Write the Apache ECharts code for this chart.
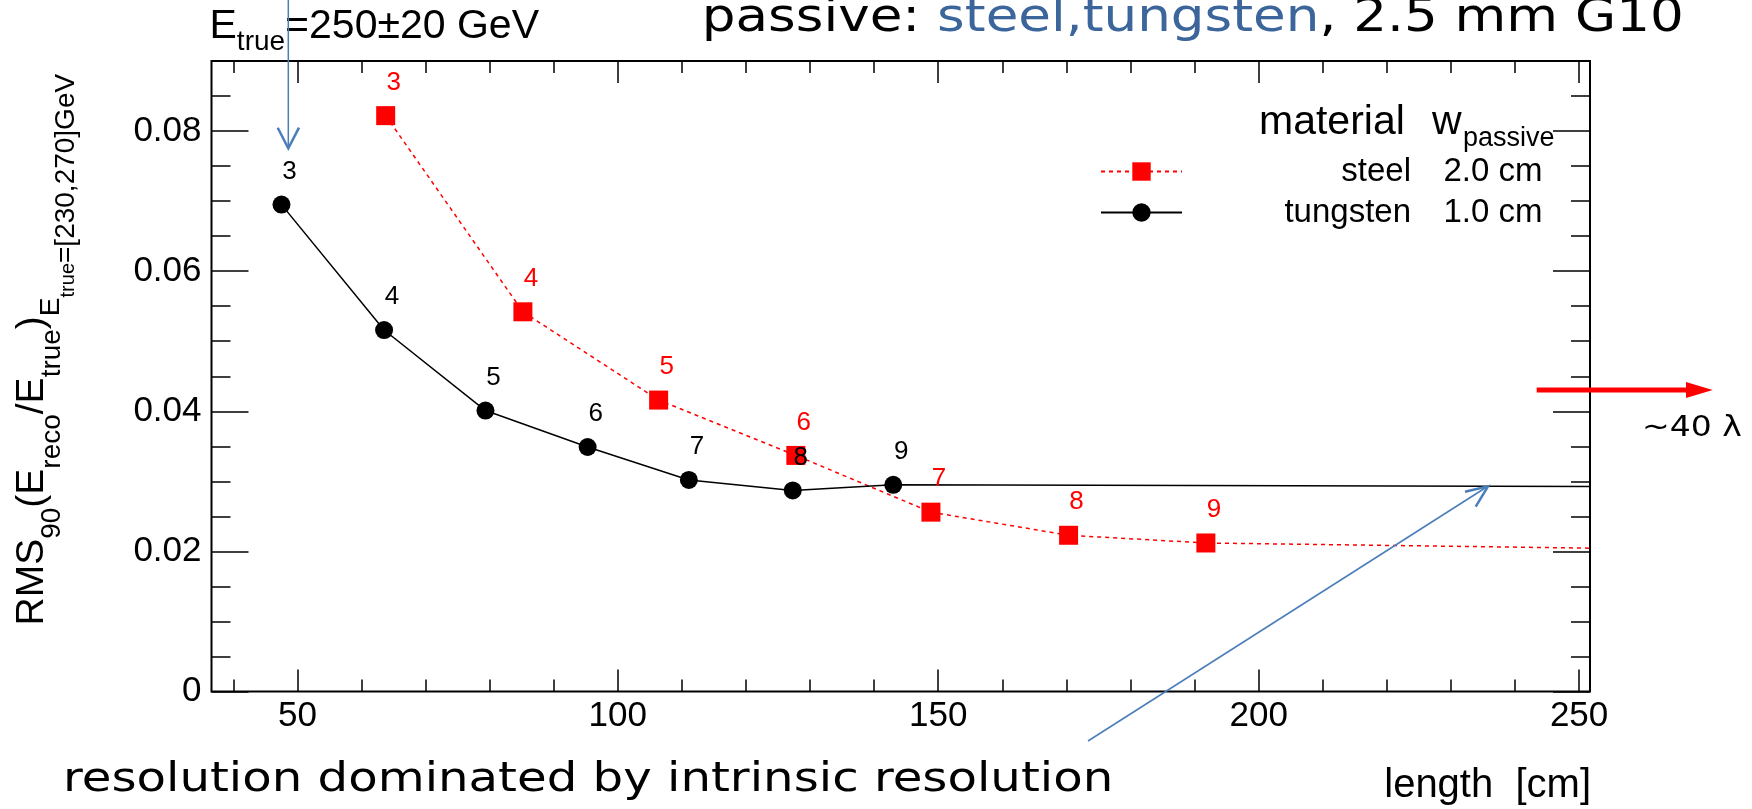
<!DOCTYPE html>
<html><head><meta charset="utf-8">
<script src="https://cdn.jsdelivr.net/npm/echarts@6/dist/echarts.min.js"></script>
<style>html,body{margin:0;padding:0;background:#fff}#c{width:1752px;height:809px}</style>
</head><body><div id="c"></div>
<script>
// ---- data ----
const layers = [3, 4, 5, 6, 7, 8, 9];
const steelLength = [63.78, 85.19, 106.37, 127.78, 148.86, 170.34, 191.76];
const steelRms = [0.0822, 0.0542, 0.0416, 0.0337, 0.0256, 0.0223, 0.0212];
const steelFar = [851, 0.0131];        // ~40 lambda point, off the plotted range
const tungstenLength = [47.52, 63.53, 79.35, 95.29, 111.09, 127.30, 142.98];
const tungstenRms = [0.0695, 0.0516, 0.0401, 0.0349, 0.0302, 0.0287, 0.0295];
const tungstenFar = [635, 0.0284];     // ~40 lambda point, off the plotted range
const xMajorTicks = [50, 100, 150, 200, 250];
const xMinorTicks = [40, 50, 60, 70, 80, 90, 100, 110, 120, 130, 140, 150, 160, 170, 180, 190, 200, 210, 220, 230, 240, 250];
const yMajorTicks = [0, 0.02, 0.04, 0.06, 0.08];
const yMinorTicks = [0, 0.005, 0.01, 0.015, 0.02, 0.025, 0.03, 0.035, 0.04, 0.045, 0.05, 0.055, 0.06, 0.065, 0.07, 0.075, 0.08, 0.085];
const legendNames = ['steel', 'tungsten'];
const legendWidths = ['2.0 cm', '1.0 cm'];

// ---- helpers for multi-size text ----
const ROOTF = 'Liberation Sans';
const SLIDEF = 'DejaVu Sans';
const mctx = document.createElement('canvas').getContext('2d');
function tw(t, size, fam) { mctx.font = size + 'px "' + fam + '"'; return mctx.measureText(t).width; }
function txt(x, base, t, size, fam, color, sx, align) {
  return {
    type: 'text', x: x, y: base - 0.346 * size, scaleX: sx || 1, z: 100,
    style: { text: t, font: size + 'px "' + fam + '"', fill: color || '#000',
      align: align || 'left', textAlign: align || 'left', verticalAlign: 'middle', textVerticalAlign: 'middle' }
  };
}
function runs(x0, base, parts, fam, sx) {
  sx = sx || 1; let x = x0; const out = [];
  for (const p of parts) {
    out.push(txt(x, base + (p.dy || 0), p.t, p.size, fam, p.c, sx));
    x += tw(p.t, p.size, fam) * sx;
  }
  return out;
}

const chart = echarts.init(document.getElementById('c'), null, { renderer: 'canvas', width: 1752, height: 809 });

const XMIN = 36.6, XMAX = 251.7;
function xAx(pos, ticks, len, withLabels) {
  return {
    type: 'value', position: pos, gridIndex: 0, min: XMIN, max: XMAX,
    axisLine: { show: false, onZero: false }, splitLine: { show: false },
    axisTick: { show: true, inside: true, length: len, customValues: ticks, lineStyle: { color: '#000', width: 1.5 } },
    axisLabel: withLabels ? { show: true, customValues: ticks, margin: 7, fontSize: 35, fontFamily: ROOTF, color: '#000' } : { show: false }
  };
}
function yAx(pos, ticks, len, withLabels) {
  return {
    type: 'value', position: pos, gridIndex: 0, min: 0, max: 0.09,
    axisLine: { show: false, onZero: false }, splitLine: { show: false },
    axisTick: { show: true, inside: true, length: len, customValues: ticks, lineStyle: { color: '#000', width: 1.5 } },
    axisLabel: withLabels ? { show: true, customValues: ticks, margin: 10, fontSize: 35, fontFamily: ROOTF, color: '#000',
      formatter: v => (v === 0 ? '0' : v.toFixed(2)) } : { show: false }
  };
}

const steelData = steelLength.map((x, i) => [x, steelRms[i]]);
steelData.push({ value: steelFar, symbol: 'none', label: { show: false } });
const tungstenData = tungstenLength.map((x, i) => [x, tungstenRms[i]]);
tungstenData.push({ value: tungstenFar, symbol: 'none', label: { show: false } });

function layerLabel(color) {
  return { show: true, position: 'inside', offset: [8, -33], fontSize: 26, fontFamily: ROOTF, color: color,
    formatter: p => (p.dataIndex < layers.length ? String(layers[p.dataIndex]) : '') };
}

// y-axis title (rotated)
const yTitleParts = [
  { t: 'RMS', size: 39, dy: 0 }, { t: '90', size: 28, dy: 16 },
  { t: '(E', size: 39, dy: 0 }, { t: 'reco', size: 28, dy: 16 },
  { t: '/E', size: 39, dy: 0 }, { t: 'true', size: 28, dy: 16 },
  { t: ')', size: 39, dy: 0 }, { t: 'E', size: 28, dy: 15 },
  { t: 'true', size: 20, dy: 30 }, { t: '=[230,270]GeV', size: 28, dy: 30 }
];

const graphics = [].concat(
  // E_true = 250 +- 20 GeV
  runs(209.5, 40.7, [{ t: 'E', size: 41 }, { t: 'true', size: 28, dy: 11 }, { t: '=250\u00b120 GeV', size: 41 }], ROOTF),
  // slide title
  runs(701.8, 35, [{ t: 'passive: ', size: 46 }, { t: 'steel,tungsten', size: 46, c: '#3b659b' }, { t: ', 2.5 mm G10', size: 46 }], SLIDEF, 1.155),
  // bottom remark
  [txt(63, 794, 'resolution dominated by intrinsic resolution', 40, SLIDEF, '#000', 1.205)],
  // ~40 lambda
  [txt(1642, 438.5, '~40 \u03bb', 28, SLIDEF, '#000', 1.18)],
  // x axis title
  [txt(1591, 800, 'length  [cm]', 40, ROOTF, '#000', 1, 'right')],
  // legend header
  [txt(1259, 136.7, 'material', 41, ROOTF), txt(1432, 136.7, 'w', 41, ROOTF), txt(1463, 148.3, 'passive', 27, ROOTF)],
  [{ type: 'group', x: 45.5, y: 625.5, rotation: Math.PI / 2, z: 100, children: runs(0, 0, yTitleParts, ROOTF) }],
  // blue arrows
  [
    { type: 'line', z: 100, shape: { x1: 288.3, y1: 0, x2: 288.3, y2: 147 }, style: { stroke: '#4a7ebb', lineWidth: 1.5 } },
    { type: 'polyline', z: 100, shape: { points: [[277.7, 127.7], [288.3, 148.3], [299, 127.7]] }, style: { stroke: '#4a7ebb', lineWidth: 2.5, fill: null } },
    { type: 'line', z: 100, shape: { x1: 1088, y1: 741, x2: 1487.5, y2: 486.5 }, style: { stroke: '#4a7ebb', lineWidth: 1.5 } },
    { type: 'polyline', z: 100, shape: { points: [[1465, 491.7], [1488, 486.3], [1475.7, 506.7]] }, style: { stroke: '#4a7ebb', lineWidth: 2.5, fill: null } },
    // red arrow
    { type: 'line', z: 100, shape: { x1: 1536.7, y1: 390, x2: 1688, y2: 390 }, style: { stroke: '#ff0000', lineWidth: 5 } },
    { type: 'polygon', z: 100, shape: { points: [[1686, 382], [1712.7, 390], [1686, 398]] }, style: { fill: '#ff0000' } }
  ]
);

const option = {
  animation: false,
  backgroundColor: '#fff',
  grid: { left: 211.5, top: 61, width: 1378.5, height: 630.5, show: true, borderColor: '#000', borderWidth: 2,
    backgroundColor: 'transparent', containLabel: false, outerBoundsMode: 'none' },
  xAxis: [xAx('bottom', xMajorTicks, 22, true), xAx('bottom', xMinorTicks, 12, false),
          xAx('top', xMajorTicks, 22, false), xAx('top', xMinorTicks, 12, false)],
  yAxis: [yAx('left', yMajorTicks, 37, true), yAx('left', yMinorTicks, 19, false),
          yAx('right', yMajorTicks, 37, false), yAx('right', yMinorTicks, 19, false)],
  legend: {
    data: legendNames, orient: 'vertical', left: 1100, top: 155, itemWidth: 81, itemHeight: 23, itemGap: 8,
    selectedMode: false, padding: 0,
    formatter: n => '{n|' + n + '}{w|' + legendWidths[legendNames.indexOf(n)] + '}',
    textStyle: { fontSize: 33, fontFamily: ROOTF, color: '#000', lineHeight: 23,
      rich: { n: { width: 224, align: 'right', fontSize: 33, fontFamily: ROOTF, color: '#000', lineHeight: 23 },
              w: { width: 131.5, align: 'right', fontSize: 33, fontFamily: ROOTF, color: '#000', lineHeight: 23 } } }
  },
  series: [
    { name: 'steel', type: 'line', xAxisIndex: 0, yAxisIndex: 0, data: steelData, symbol: 'rect', symbolSize: 19,
      itemStyle: { color: '#ff0000' }, lineStyle: { color: '#ff0000', width: 1.5, type: [4, 4] },
      label: layerLabel('#ff0000'), silent: true, emphasis: { disabled: true }, clip: true },
    { name: 'tungsten', type: 'line', xAxisIndex: 0, yAxisIndex: 0, data: tungstenData, symbol: 'circle', symbolSize: 18,
      itemStyle: { color: '#000' }, lineStyle: { color: '#000', width: 1.5 },
      label: layerLabel('#000'), silent: true, emphasis: { disabled: true }, clip: true }
  ],
  graphic: { elements: graphics }
};
chart.setOption(option);
</script>
</body></html>
